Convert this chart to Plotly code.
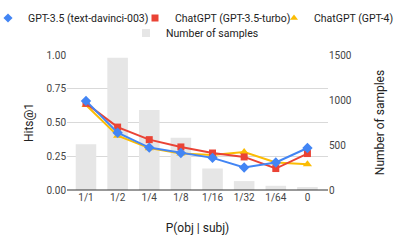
import plotly.graph_objects as go

categories = ["1/1", "1/2", "1/4", "1/8", "1/16", "1/32", "1/64", "0"]
davinci = [0.66, 0.424, 0.314, 0.274, 0.238, 0.167, 0.204, 0.311]
turbo = [0.642, 0.466, 0.373, 0.319, 0.274, 0.245, 0.159, 0.270]
gpt4 = [0.63, 0.402, 0.31, 0.27, 0.26, 0.282, 0.204, 0.191]
samples = [507, 1470, 890, 581, 239, 99, 47, 33]

BLUE, RED, YELLOW, GRAY = "#4285F4", "#EA4335", "#FBBC04", "#e6e6e6"

fig = go.Figure()
fig.add_trace(go.Bar(x=categories, y=samples, name="Number of samples",
                     marker=dict(color=GRAY, line=dict(width=0)),
                     width=0.65, yaxis="y", showlegend=False))
series = [
    ("ChatGPT (GPT-4)", gpt4, YELLOW, "triangle-up", 8, "legend3"),
    ("ChatGPT (GPT-3.5-turbo)", turbo, RED, "square", 7, "legend2"),
    ("GPT-3.5 (text-davinci-003)", davinci, BLUE, "diamond", 8, "legend"),
]
for name, vals, col, sym, sz, lg in series:
    fig.add_trace(go.Scatter(x=categories, y=vals, name=name, mode="lines+markers",
                             line=dict(color=col, width=2),
                             marker=dict(symbol=sym, size=sz, color=col),
                             yaxis="y2", showlegend=False))
# legend-only entries (marker symbols, as in the reference legend)
for name, vals, col, sym, sz, lg in series:
    fig.add_trace(go.Scatter(x=[None], y=[None], name=name, mode="markers",
                             marker=dict(symbol=sym, size=7, color=col),
                             yaxis="y2", legend=lg))
fig.add_trace(go.Scatter(x=[None], y=[None], name="Number of samples", mode="markers",
                         marker=dict(symbol="square", size=8, color=GRAY),
                         yaxis="y2", legend="legend4"))

L, R, T, B = 67, 71, 55, 57
PW, PH = 399 - L - R, 247 - T - B

def px_x(px):
    return (px - L) / PW

def px_y(py):
    return (247 - B - py) / PH

legend_common = dict(orientation="h", xanchor="left", yanchor="middle", xref="paper", yref="paper",
                     font=dict(size=10.5, color="#222"), bgcolor="rgba(0,0,0,0)",
                     itemwidth=30, borderwidth=0)

fig.update_layout(
    width=399, height=247,
    margin=dict(l=L, r=R, t=T, b=B, autoexpand=False),
    paper_bgcolor="white", plot_bgcolor="white",
    font=dict(family="Roboto", size=10, color="#444"),
    legend=dict(x=px_x(-12), y=px_y(18), **legend_common),
    legend2=dict(x=px_x(135), y=px_y(18), **legend_common),
    legend3=dict(x=px_x(274), y=px_y(18), **legend_common),
    legend4=dict(x=px_x(126), y=px_y(33), **legend_common),
    xaxis=dict(type="category", range=[-0.6, 7.65], showgrid=False, showline=False,
               ticks="", tickfont=dict(size=10, color="#444"),
               title=dict(text="P(obj | subj)", font=dict(size=12, color="#222"), standoff=21)),
    yaxis=dict(side="right", range=[0, 1500], tickvals=[0, 500, 1000, 1500],
               showgrid=False, zeroline=False, showline=False, ticks="",
               tickfont=dict(size=10, color="#444"),
               minor=dict(showgrid=True, dtick=375, tick0=0, gridcolor="#d9d9d9", gridwidth=1),
               title=dict(text="Number of samples", font=dict(size=12, color="#222"), standoff=24)),
    yaxis2=dict(side="left", overlaying="y", range=[0, 1.0], tickvals=[0, 0.25, 0.5, 0.75, 1.0],
                ticktext=["0.00", "0.25", "0.50", "0.75", "1.00"],
                showgrid=False, zeroline=False, showline=False, ticks="",
                tickfont=dict(size=10, color="#444"),
                title=dict(text="Hits@1", font=dict(size=12, color="#222"), standoff=10)),
    shapes=[dict(type="line", xref="paper", yref="paper", x0=0, x1=1, y0=0, y1=0,
                 line=dict(color="#333", width=1))],
)

fig.write_html("out.html", config={"displayModeBar": False},
               post_script="document.body.style.margin='0';document.body.style.overflow='hidden';")
